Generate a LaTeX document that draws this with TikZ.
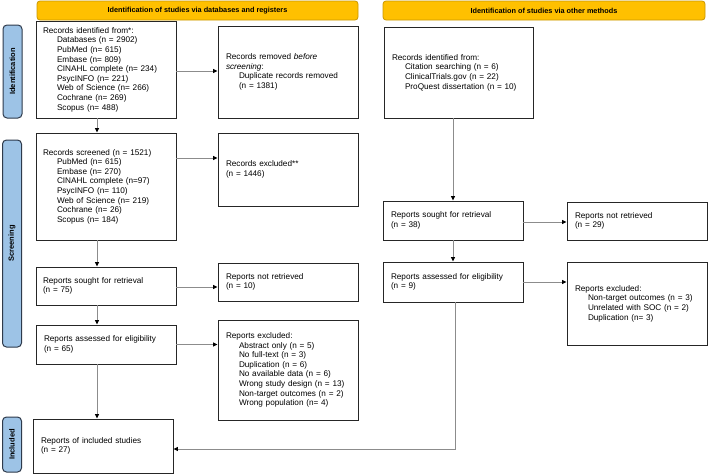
\documentclass[tikz,border=0pt]{standalone}
\usepackage{fontspec}
\setmainfont{Liberation Sans}
\usetikzlibrary{arrows.meta}
\definecolor{hdrfill}{HTML}{FFC000}
\definecolor{hdrdraw}{HTML}{C99700}
\definecolor{sidefill}{HTML}{9DC3E6}
\definecolor{sidedraw}{HTML}{2E3A4B}
\definecolor{linegray}{HTML}{8C8C8C}
\newcommand{\ind}{\hspace*{13pt}}
\begin{document}
\begin{tikzpicture}[x=1pt,y=-1pt,
  box/.style={draw=black!85, line width=0.9pt, inner xsep=7pt, inner ysep=2pt,
    align=left, font=\fontsize{8.2}{9.6}\selectfont, anchor=center},
  arr/.style={draw=linegray, line width=0.9pt,
    -{Triangle[length=4.5pt,width=4pt,color=black]}},
  hdr/.style={draw=hdrdraw, fill=hdrfill, line width=0.8pt, rounded corners=3pt,
    font=\bfseries\fontsize{7.3}{8}\selectfont, minimum height=19pt, inner sep=0pt},
  side/.style={draw=sidedraw, fill=sidefill, line width=1pt, rounded corners=4pt,
    font=\bfseries\fontsize{7.5}{8}\selectfont, minimum height=19pt, inner sep=0pt, rotate=90}
]
\useasboundingbox (0,0) rectangle (709,474);

% headers
\node[hdr, minimum width=321pt] (H1) at (197.5,10.5) {Identification of studies via databases and registers};
\node[hdr, minimum width=322pt] (H2) at (544,10.5) {Identification of studies via other methods};

% side bars
\node[side, minimum width=93pt] (S1) at (12.5,71.5) {Identification};
\node[side, minimum width=207pt] (S2) at (12,243.5) {Screening};
\node[side, minimum width=55pt] (S3) at (12,444.5) {Included};

% left column
\node[box, minimum width=140pt, minimum height=97pt, text width=126pt] (A) at (106,69.5)
 {Records identified from*:\\
  \hspace*{14pt}Databases (n = 2902)\\
  \hspace*{14pt}PubMed (n= 615)\\
  \hspace*{14pt}Embase (n= 809)\\
  \hspace*{14pt}CINAHL complete (n= 234)\\
  \hspace*{14pt}PsycINFO (n= 221)\\
  \hspace*{14pt}Web of Science (n= 266)\\
  \hspace*{14pt}Cochrane (n= 269)\\
  \hspace*{14pt}Scopus (n= 488)};
\node[box, minimum width=140pt, minimum height=92pt, text width=124pt, inner xsep=8pt] (B) at (288,72)
 {Records removed \textit{before}\\
  \textit{screening}:\\
  \ind Duplicate records removed\\
  \ind (n = 1381)};
\node[box, minimum width=140pt, minimum height=107pt, text width=126pt] (C) at (106,186.5)
 {Records screened (n = 1521)\\
  \hspace*{14pt}PubMed (n= 615)\\
  \hspace*{14pt}Embase (n= 270)\\
  \hspace*{14pt}CINAHL complete (n=97)\\
  \hspace*{14pt}PsycINFO (n= 110)\\
  \hspace*{14pt}Web of Science (n= 219)\\
  \hspace*{14pt}Cochrane (n= 26)\\
  \hspace*{14pt}Scopus (n= 184)};
\node[box, minimum width=140pt, minimum height=73pt, text width=124pt, inner xsep=8pt] (D) at (288,169.5)
 {Records excluded**\\(n = 1446)};
\node[box, minimum width=140pt, minimum height=38pt, text width=126pt] (E) at (106,286)
 {Reports sought for retrieval\\(n = 75)};
\node[box, minimum width=140pt, minimum height=38pt, text width=124pt, inner xsep=8pt] (F) at (288,282)
 {Reports not retrieved\\(n = 10)};
\node[box, minimum width=140pt, minimum height=39pt, text width=124pt, inner xsep=8pt] (G) at (106,344.5)
 {Reports assessed for eligibility\\(n = 65)};
\node[box, minimum width=140pt, minimum height=100pt, text width=124pt, inner xsep=8pt] (H) at (288,370)
 {Reports excluded:\\
  \ind Abstract only (n = 5)\\
  \ind No full-text (n = 3)\\
  \ind Duplication (n = 6)\\
  \ind No available data (n = 6)\\
  \ind Wrong study design (n = 13)\\
  \ind Non-target outcomes (n = 2)\\
  \ind Wrong population (n= 4)};
\node[box, minimum width=140pt, minimum height=54pt, text width=124pt, inner xsep=8pt] (I) at (103,446)
 {Reports of included studies\\(n = 27)};

% right column
\node[box, minimum width=149pt, minimum height=91pt, text width=133pt, inner xsep=8pt] (J) at (458.5,72.5)
 {Records identified from:\\
  \ind Citation searching (n = 6)\\
  \ind ClinicalTrials.gov (n = 22)\\
  \ind ProQuest dissertation (n = 10)};
\node[box, minimum width=140pt, minimum height=39pt, text width=124pt, inner xsep=8pt] (K) at (453,220.5)
 {Reports sought for retrieval\\(n = 38)};
\node[box, minimum width=140pt, minimum height=38pt, text width=124pt, inner xsep=8pt] (L) at (637,221)
 {Reports not retrieved\\(n = 29)};
\node[box, minimum width=140pt, minimum height=40pt, text width=124pt, inner xsep=8pt] (M) at (453,282)
 {Reports assessed for eligibility\\(n = 9)};
\node[box, minimum width=140pt, minimum height=83pt, text width=124pt, inner xsep=8pt] (N) at (637,303.5)
 {Reports excluded:\\
  \ind Non-target outcomes (n = 3)\\
  \ind Unrelated with SOC (n = 2)\\
  \ind Duplication (n= 3)};

% helper coordinates
\coordinate (xl) at (97,0);
\coordinate (xm) at (455,0);
\coordinate (yab) at (0,71);
\coordinate (ycd) at (0,158);
\coordinate (yef) at (0,287);
\coordinate (ymi) at (0,449);

% connectors left
\draw[arr] (xl |- A.south) -- (xl |- C.north);
\draw[arr] (xl |- C.south) -- (xl |- E.north);
\draw[arr] (xl |- E.south) -- (xl |- G.north);
\draw[arr] (xl |- G.south) -- (xl |- I.north);
\draw[arr] (A.east |- yab) -- (B.west |- yab);
\draw[arr] (C.east |- ycd) -- (D.west |- ycd);
\draw[arr] (E.east |- yef) -- (F.west |- yef);
\draw[arr] (G.east) -- (G.east -| H.west);

% connectors right
\draw[arr] (K.north |- J.south) -- (K.north);
\draw[arr] (K.south) -- (M.north);
\draw[arr] (K.east) ++(0,1.5) coordinate (kl) -- (kl -| L.west);
\draw[arr] (M.east) -- (M.east -| N.west);
\draw[arr] (xm |- M.south) -- (xm |- ymi) -- (I.east |- ymi);
\end{tikzpicture}
\end{document}
